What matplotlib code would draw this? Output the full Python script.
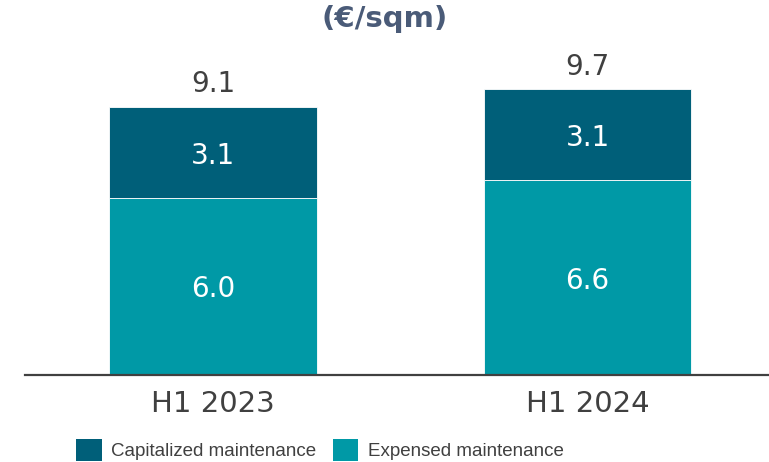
import matplotlib
matplotlib.use("Agg")
import matplotlib.pyplot as plt
from matplotlib.patches import Patch

# data
periods = ["H1 2023", "H1 2024"]
expensed = [6.0, 6.6]
capitalized = [3.1, 3.1]
totals = [9.1, 9.7]

DARK = "#005f79"
TEAL = "#0099a6"
TXT = "#404040"

fig = plt.figure(figsize=(7.69, 4.62), dpi=100)
ax = fig.add_axes([25 / 769, 87 / 462, 1 - 25 / 769, 324.5 / 462])

x = list(range(len(periods)))
w = 0.555
ax.bar(x, expensed, width=w, color=TEAL, edgecolor="white", linewidth=0.6)
ax.bar(x, capitalized, width=w, bottom=expensed, color=DARK, edgecolor="white", linewidth=0.6)

# labels sit a touch below the true middle, like the original
for i in x:
    ax.text(i, expensed[i] / 2 - 0.1, f"{expensed[i]:.1f}", ha="center", va="center",
            color="white", fontsize=20)
    ax.text(i, expensed[i] + capitalized[i] / 2 - 0.12, f"{capitalized[i]:.1f}", ha="center",
            va="center", color="white", fontsize=20)
    ax.text(i, totals[i] + 0.75, f"{totals[i]:.1f}", ha="center", va="center",
            color=TXT, fontsize=20)

ax.set_xlim(-0.502, 1.4846)
ax.set_ylim(0, 11)
ax.set_yticks([])
ax.set_xticks(x)
ax.set_xticklabels(periods, fontsize=21, color=TXT)
ax.tick_params(axis="x", length=0, pad=11)
for s in ["top", "right", "left"]:
    ax.spines[s].set_visible(False)
ax.spines["bottom"].set_color(TXT)
ax.spines["bottom"].set_linewidth(1.6)

fig.text(0.5, 1 - 19 / 462, "(€/sqm)", ha="center", va="center",
         fontsize=21, fontweight="bold", color="#4a5b78")

handles = [Patch(facecolor=DARK, label="Capitalized maintenance"),
           Patch(facecolor=TEAL, label="Expensed maintenance")]
fig.legend(handles=handles, loc="center", bbox_to_anchor=(320 / 769, 1 - 450 / 462),
           ncol=2, frameon=False, handlelength=1.35, handleheight=1.35,
           handletextpad=0.5, columnspacing=0.9, borderpad=0, borderaxespad=0,
           prop={"family": "Liberation Sans", "size": 13.5}, labelcolor=TXT)

fig.savefig("out.png", dpi=100)
